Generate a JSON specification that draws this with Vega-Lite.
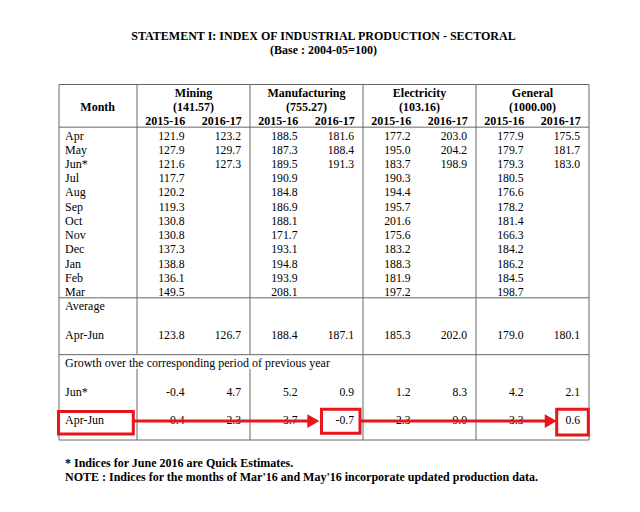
{
  "$schema": "https://vega.github.io/schema/vega-lite/v6.json",
  "width": 640,
  "height": 512,
  "autosize": "none",
  "padding": 0,
  "background": "white",
  "config": {
    "view": {"stroke": null},
    "locale": {"number": {"decimal": ".", "thousands": ",", "grouping": [3], "currency": ["", ""], "minus": "-"}},
    "text": {"font": "Liberation Serif", "color": "#000"}
  },
  "datasets": {
    "table": [
      {"row": "Apr", "label": "Apr", "Mining 2015-16": 121.9, "Mining 2016-17": 123.2, "Manufacturing 2015-16": 188.5, "Manufacturing 2016-17": 181.6, "Electricity 2015-16": 177.2, "Electricity 2016-17": 203.0, "General 2015-16": 177.9, "General 2016-17": 175.5},
      {"row": "May", "label": "May", "Mining 2015-16": 127.9, "Mining 2016-17": 129.7, "Manufacturing 2015-16": 187.3, "Manufacturing 2016-17": 188.4, "Electricity 2015-16": 195.0, "Electricity 2016-17": 204.2, "General 2015-16": 179.7, "General 2016-17": 181.7},
      {"row": "Jun*", "label": "Jun*", "Mining 2015-16": 121.6, "Mining 2016-17": 127.3, "Manufacturing 2015-16": 189.5, "Manufacturing 2016-17": 191.3, "Electricity 2015-16": 183.7, "Electricity 2016-17": 198.9, "General 2015-16": 179.3, "General 2016-17": 183.0},
      {"row": "Jul", "label": "Jul", "Mining 2015-16": 117.7, "Manufacturing 2015-16": 190.9, "Electricity 2015-16": 190.3, "General 2015-16": 180.5},
      {"row": "Aug", "label": "Aug", "Mining 2015-16": 120.2, "Manufacturing 2015-16": 184.8, "Electricity 2015-16": 194.4, "General 2015-16": 176.6},
      {"row": "Sep", "label": "Sep", "Mining 2015-16": 119.3, "Manufacturing 2015-16": 186.9, "Electricity 2015-16": 195.7, "General 2015-16": 178.2},
      {"row": "Oct", "label": "Oct", "Mining 2015-16": 130.8, "Manufacturing 2015-16": 188.1, "Electricity 2015-16": 201.6, "General 2015-16": 181.4},
      {"row": "Nov", "label": "Nov", "Mining 2015-16": 130.8, "Manufacturing 2015-16": 171.7, "Electricity 2015-16": 175.6, "General 2015-16": 166.3},
      {"row": "Dec", "label": "Dec", "Mining 2015-16": 137.3, "Manufacturing 2015-16": 193.1, "Electricity 2015-16": 183.2, "General 2015-16": 184.2},
      {"row": "Jan", "label": "Jan", "Mining 2015-16": 138.8, "Manufacturing 2015-16": 194.8, "Electricity 2015-16": 188.3, "General 2015-16": 186.2},
      {"row": "Feb", "label": "Feb", "Mining 2015-16": 136.1, "Manufacturing 2015-16": 193.9, "Electricity 2015-16": 181.9, "General 2015-16": 184.5},
      {"row": "Mar", "label": "Mar", "Mining 2015-16": 149.5, "Manufacturing 2015-16": 208.1, "Electricity 2015-16": 197.2, "General 2015-16": 198.7},
      {"row": "Average", "label": "Average"},
      {"row": "Apr-Jun avg", "label": "Apr-Jun", "Mining 2015-16": 123.8, "Mining 2016-17": 126.7, "Manufacturing 2015-16": 188.4, "Manufacturing 2016-17": 187.1, "Electricity 2015-16": 185.3, "Electricity 2016-17": 202.0, "General 2015-16": 179.0, "General 2016-17": 180.1},
      {"row": "Growth", "label": "Growth over the corresponding period of previous year"},
      {"row": "Jun* growth", "label": "Jun*", "Mining 2015-16": -0.4, "Mining 2016-17": 4.7, "Manufacturing 2015-16": 5.2, "Manufacturing 2016-17": 0.9, "Electricity 2015-16": 1.2, "Electricity 2016-17": 8.3, "General 2015-16": 4.2, "General 2016-17": 2.1},
      {"row": "Apr-Jun growth", "label": "Apr-Jun", "Mining 2015-16": 0.4, "Mining 2016-17": 2.3, "Manufacturing 2015-16": 3.7, "Manufacturing 2016-17": -0.7, "Electricity 2015-16": 2.3, "Electricity 2016-17": 9.0, "General 2015-16": 3.3, "General 2016-17": 0.6}
    ],
    "sectors": [
      {"row": "h1", "col": "Mining 2015-16", "text": "Mining"},
      {"row": "h2", "col": "Mining 2015-16", "text": "(141.57)"},
      {"row": "h1", "col": "Manufacturing 2015-16", "text": "Manufacturing"},
      {"row": "h2", "col": "Manufacturing 2015-16", "text": "(755.27)"},
      {"row": "h1", "col": "Electricity 2015-16", "text": "Electricity"},
      {"row": "h2", "col": "Electricity 2015-16", "text": "(103.16)"},
      {"row": "h1", "col": "General 2015-16", "text": "General"},
      {"row": "h2", "col": "General 2015-16", "text": "(1000.00)"}
    ],
    "years": [
      {"row": "h3", "col": "Mining 2015-16", "text": "2015-16"},
      {"row": "h3", "col": "Mining 2016-17", "text": "2016-17"},
      {"row": "h3", "col": "Manufacturing 2015-16", "text": "2015-16"},
      {"row": "h3", "col": "Manufacturing 2016-17", "text": "2016-17"},
      {"row": "h3", "col": "Electricity 2015-16", "text": "2015-16"},
      {"row": "h3", "col": "Electricity 2016-17", "text": "2016-17"},
      {"row": "h3", "col": "General 2015-16", "text": "2015-16"},
      {"row": "h3", "col": "General 2016-17", "text": "2016-17"}
    ],
    "titles": [
      {"row": "title", "text": "STATEMENT I: INDEX OF INDUSTRIAL PRODUCTION - SECTORAL"},
      {"row": "subtitle", "text": "(Base : 2004-05=100)"}
    ],
    "notes": [
      {"row": "note1", "text": "* Indices for June 2016 are Quick Estimates."},
      {"row": "note2", "text": "NOTE : Indices for the months of Mar'16 and May'16 incorporate updated production data."}
    ],
    "hlines": [
      {"row": "h1"}, {"row": "Apr"}, {"row": "Average"}, {"row": "Growth"}, {"row": "noteGap"}
    ],
    "vlines": [
      {"col": "Mining 2015-16", "from": "h1", "to": "Growth"},
      {"col": "Mining 2015-16", "from": "gapC", "to": "noteGap"},
      {"col": "Manufacturing 2015-16", "from": "h1", "to": "Growth"},
      {"col": "Manufacturing 2015-16", "from": "gapC", "to": "noteGap"},
      {"col": "Electricity 2015-16", "from": "h1", "to": "noteGap"},
      {"col": "General 2015-16", "from": "h1", "to": "noteGap"},
      {"col": "end", "from": "h1", "to": "noteGap"}
    ],
    "one": [{}]
  },
  "layer": [
    {
      "data": {"name": "titles"},
      "mark": {"type": "text", "fontSize": 12, "fontWeight": "bold", "align": "center", "baseline": "middle", "dx": 3.5, "dy": 8.3},
      "encoding": {
        "y": {"field": "row", "type": "nominal", "axis": null, "scale": {"type": "point", "padding": 0, "range": [27.62, 468.44], "domain": ["title","subtitle","gapT1","gapT2","h1","h2","h3","Apr","May","Jun*","Jul","Aug","Sep","Oct","Nov","Dec","Jan","Feb","Mar","Average","gapA","Apr-Jun avg","gapB","Growth","gapC","Jun* growth","gapD","Apr-Jun growth","gapE","noteGap","note1","note2"]}},
        "text": {"field": "text"}
      }
    },
    {
      "data": {"name": "one"},
      "mark": {"type": "text", "fontSize": 12, "fontWeight": "bold", "align": "center", "baseline": "middle", "dx": 17.2, "dy": 8.5},
      "encoding": {
        "x": {"datum": "Month", "type": "nominal", "axis": null, "scale": {"type": "point", "padding": 0, "range": [80.5, 589], "domain": ["Month","Mining 2015-16","Mining 2016-17","Manufacturing 2015-16","Manufacturing 2016-17","Electricity 2015-16","Electricity 2016-17","General 2015-16","General 2016-17","end"]}},
        "y": {"datum": "h2", "type": "nominal", "axis": null, "scale": {"type": "point", "padding": 0, "range": [27.62, 468.44], "domain": ["title","subtitle","gapT1","gapT2","h1","h2","h3","Apr","May","Jun*","Jul","Aug","Sep","Oct","Nov","Dec","Jan","Feb","Mar","Average","gapA","Apr-Jun avg","gapB","Growth","gapC","Jun* growth","gapD","Apr-Jun growth","gapE","noteGap","note1","note2"]}},
        "text": {"value": "Month"}
      }
    },
    {
      "data": {"name": "sectors"},
      "mark": {"type": "text", "fontSize": 12, "fontWeight": "bold", "align": "center", "baseline": "middle", "dx": 56.5, "dy": 8.5},
      "encoding": {
        "x": {"field": "col", "type": "nominal", "axis": null, "scale": {"type": "point", "padding": 0, "range": [80.5, 589], "domain": ["Month","Mining 2015-16","Mining 2016-17","Manufacturing 2015-16","Manufacturing 2016-17","Electricity 2015-16","Electricity 2016-17","General 2015-16","General 2016-17","end"]}},
        "y": {"field": "row", "type": "nominal", "axis": null, "scale": {"type": "point", "padding": 0, "range": [27.62, 468.44], "domain": ["title","subtitle","gapT1","gapT2","h1","h2","h3","Apr","May","Jun*","Jul","Aug","Sep","Oct","Nov","Dec","Jan","Feb","Mar","Average","gapA","Apr-Jun avg","gapB","Growth","gapC","Jun* growth","gapD","Apr-Jun growth","gapE","noteGap","note1","note2"]}},
        "text": {"field": "text"}
      }
    },
    {
      "data": {"name": "years"},
      "mark": {"type": "text", "fontSize": 12, "fontWeight": "bold", "align": "center", "baseline": "middle", "dx": 28.25, "dy": 8.0},
      "encoding": {
        "x": {"field": "col", "type": "nominal", "axis": null, "scale": {"type": "point", "padding": 0, "range": [80.5, 589], "domain": ["Month","Mining 2015-16","Mining 2016-17","Manufacturing 2015-16","Manufacturing 2016-17","Electricity 2015-16","Electricity 2016-17","General 2015-16","General 2016-17","end"]}},
        "y": {"field": "row", "type": "nominal", "axis": null, "scale": {"type": "point", "padding": 0, "range": [27.62, 468.44], "domain": ["title","subtitle","gapT1","gapT2","h1","h2","h3","Apr","May","Jun*","Jul","Aug","Sep","Oct","Nov","Dec","Jan","Feb","Mar","Average","gapA","Apr-Jun avg","gapB","Growth","gapC","Jun* growth","gapD","Apr-Jun growth","gapE","noteGap","note1","note2"]}},
        "text": {"field": "text"}
      }
    },
    {
      "data": {"name": "table"},
      "mark": {"type": "text", "fontSize": 12, "align": "left", "baseline": "middle", "dx": -15.5, "dy": 8.4},
      "encoding": {
        "x": {"datum": "Month", "type": "nominal", "axis": null, "scale": {"type": "point", "padding": 0, "range": [80.5, 589], "domain": ["Month","Mining 2015-16","Mining 2016-17","Manufacturing 2015-16","Manufacturing 2016-17","Electricity 2015-16","Electricity 2016-17","General 2015-16","General 2016-17","end"]}},
        "y": {"field": "row", "type": "nominal", "axis": null, "scale": {"type": "point", "padding": 0, "range": [27.62, 468.44], "domain": ["title","subtitle","gapT1","gapT2","h1","h2","h3","Apr","May","Jun*","Jul","Aug","Sep","Oct","Nov","Dec","Jan","Feb","Mar","Average","gapA","Apr-Jun avg","gapB","Growth","gapC","Jun* growth","gapD","Apr-Jun growth","gapE","noteGap","note1","note2"]}},
        "text": {"field": "label"}
      }
    },
    {
      "data": {"name": "table"},
      "transform": [
        {"fold": ["Mining 2015-16","Mining 2016-17","Manufacturing 2015-16","Manufacturing 2016-17","Electricity 2015-16","Electricity 2016-17","General 2015-16","General 2016-17"], "as": ["col", "value"]},
        {"filter": "isValid(datum.value)"}
      ],
      "mark": {"type": "text", "fontSize": 11.7, "align": "right", "baseline": "middle", "dx": 47.5, "dy": 8.4},
      "encoding": {
        "x": {"field": "col", "type": "nominal", "axis": null, "scale": {"type": "point", "padding": 0, "range": [80.5, 589], "domain": ["Month","Mining 2015-16","Mining 2016-17","Manufacturing 2015-16","Manufacturing 2016-17","Electricity 2015-16","Electricity 2016-17","General 2015-16","General 2016-17","end"]}},
        "y": {"field": "row", "type": "nominal", "axis": null, "scale": {"type": "point", "padding": 0, "range": [27.62, 468.44], "domain": ["title","subtitle","gapT1","gapT2","h1","h2","h3","Apr","May","Jun*","Jul","Aug","Sep","Oct","Nov","Dec","Jan","Feb","Mar","Average","gapA","Apr-Jun avg","gapB","Growth","gapC","Jun* growth","gapD","Apr-Jun growth","gapE","noteGap","note1","note2"]}},
        "text": {"field": "value", "type": "quantitative", "format": ".1f"}
      }
    },
    {
      "data": {"name": "notes"},
      "mark": {"type": "text", "fontSize": 12, "fontWeight": "bold", "align": "left", "baseline": "middle", "dx": -15.5, "dy": 8.6},
      "encoding": {
        "x": {"datum": "Month", "type": "nominal", "axis": null, "scale": {"type": "point", "padding": 0, "range": [80.5, 589], "domain": ["Month","Mining 2015-16","Mining 2016-17","Manufacturing 2015-16","Manufacturing 2016-17","Electricity 2015-16","Electricity 2016-17","General 2015-16","General 2016-17","end"]}},
        "y": {"field": "row", "type": "nominal", "axis": null, "scale": {"type": "point", "padding": 0, "range": [27.62, 468.44], "domain": ["title","subtitle","gapT1","gapT2","h1","h2","h3","Apr","May","Jun*","Jul","Aug","Sep","Oct","Nov","Dec","Jan","Feb","Mar","Average","gapA","Apr-Jun avg","gapB","Growth","gapC","Jun* growth","gapD","Apr-Jun growth","gapE","noteGap","note1","note2"]}},
        "text": {"field": "text"}
      }
    },
    {
      "data": {"name": "hlines"},
      "mark": {"type": "rule", "color": "#666", "strokeWidth": 1, "xOffset": -21.5},
      "encoding": {
        "x": {"datum": "Month", "type": "nominal", "axis": null, "scale": {"type": "point", "padding": 0, "range": [80.5, 589], "domain": ["Month","Mining 2015-16","Mining 2016-17","Manufacturing 2015-16","Manufacturing 2016-17","Electricity 2015-16","Electricity 2016-17","General 2015-16","General 2016-17","end"]}},
        "x2": {"datum": "end"},
        "y": {"field": "row", "type": "nominal", "axis": null, "scale": {"type": "point", "padding": 0, "range": [27.62, 468.44], "domain": ["title","subtitle","gapT1","gapT2","h1","h2","h3","Apr","May","Jun*","Jul","Aug","Sep","Oct","Nov","Dec","Jan","Feb","Mar","Average","gapA","Apr-Jun avg","gapB","Growth","gapC","Jun* growth","gapD","Apr-Jun growth","gapE","noteGap","note1","note2"]}}
      }
    },
    {
      "data": {"name": "vlines"},
      "mark": {"type": "rule", "color": "#666", "strokeWidth": 1},
      "encoding": {
        "x": {"field": "col", "type": "nominal", "axis": null, "scale": {"type": "point", "padding": 0, "range": [80.5, 589], "domain": ["Month","Mining 2015-16","Mining 2016-17","Manufacturing 2015-16","Manufacturing 2016-17","Electricity 2015-16","Electricity 2016-17","General 2015-16","General 2016-17","end"]}},
        "y": {"field": "from", "type": "nominal", "axis": null, "scale": {"type": "point", "padding": 0, "range": [27.62, 468.44], "domain": ["title","subtitle","gapT1","gapT2","h1","h2","h3","Apr","May","Jun*","Jul","Aug","Sep","Oct","Nov","Dec","Jan","Feb","Mar","Average","gapA","Apr-Jun avg","gapB","Growth","gapC","Jun* growth","gapD","Apr-Jun growth","gapE","noteGap","note1","note2"]}},
        "y2": {"field": "to"}
      }
    },
    {
      "data": {"name": "one"},
      "mark": {"type": "rule", "color": "#666", "strokeWidth": 1, "xOffset": -21.5},
      "encoding": {
        "x": {"datum": "Month", "type": "nominal", "axis": null, "scale": {"type": "point", "padding": 0, "range": [80.5, 589], "domain": ["Month","Mining 2015-16","Mining 2016-17","Manufacturing 2015-16","Manufacturing 2016-17","Electricity 2015-16","Electricity 2016-17","General 2015-16","General 2016-17","end"]}},
        "y": {"datum": "h1", "type": "nominal", "axis": null, "scale": {"type": "point", "padding": 0, "range": [27.62, 468.44], "domain": ["title","subtitle","gapT1","gapT2","h1","h2","h3","Apr","May","Jun*","Jul","Aug","Sep","Oct","Nov","Dec","Jan","Feb","Mar","Average","gapA","Apr-Jun avg","gapB","Growth","gapC","Jun* growth","gapD","Apr-Jun growth","gapE","noteGap","note1","note2"]}},
        "y2": {"datum": "noteGap"}
      }
    },
    {
      "data": {"name": "one"},
      "mark": {"type": "rect", "filled": false, "stroke": "#e8151b", "strokeWidth": 3, "xOffset": -22, "x2Offset": -3.7, "yOffset": 0, "y2Offset": -6},
      "encoding": {
        "x": {"datum": "Month", "type": "nominal", "axis": null, "scale": {"type": "point", "padding": 0, "range": [80.5, 589], "domain": ["Month","Mining 2015-16","Mining 2016-17","Manufacturing 2015-16","Manufacturing 2016-17","Electricity 2015-16","Electricity 2016-17","General 2015-16","General 2016-17","end"]}},
        "x2": {"datum": "Mining 2015-16"},
        "y": {"datum": "Apr-Jun growth", "type": "nominal", "axis": null, "scale": {"type": "point", "padding": 0, "range": [27.62, 468.44], "domain": ["title","subtitle","gapT1","gapT2","h1","h2","h3","Apr","May","Jun*","Jul","Aug","Sep","Oct","Nov","Dec","Jan","Feb","Mar","Average","gapA","Apr-Jun avg","gapB","Growth","gapC","Jun* growth","gapD","Apr-Jun growth","gapE","noteGap","note1","note2"]}},
        "y2": {"datum": "noteGap"}
      }
    },
    {
      "data": {"name": "one"},
      "mark": {"type": "rect", "filled": false, "stroke": "#e8151b", "strokeWidth": 3, "xOffset": 15, "x2Offset": -3, "yOffset": -2.3, "y2Offset": -6.7},
      "encoding": {
        "x": {"datum": "Manufacturing 2016-17", "type": "nominal", "axis": null, "scale": {"type": "point", "padding": 0, "range": [80.5, 589], "domain": ["Month","Mining 2015-16","Mining 2016-17","Manufacturing 2015-16","Manufacturing 2016-17","Electricity 2015-16","Electricity 2016-17","General 2015-16","General 2016-17","end"]}},
        "x2": {"datum": "Electricity 2015-16"},
        "y": {"datum": "Apr-Jun growth", "type": "nominal", "axis": null, "scale": {"type": "point", "padding": 0, "range": [27.62, 468.44], "domain": ["title","subtitle","gapT1","gapT2","h1","h2","h3","Apr","May","Jun*","Jul","Aug","Sep","Oct","Nov","Dec","Jan","Feb","Mar","Average","gapA","Apr-Jun avg","gapB","Growth","gapC","Jun* growth","gapD","Apr-Jun growth","gapE","noteGap","note1","note2"]}},
        "y2": {"datum": "noteGap"}
      }
    },
    {
      "data": {"name": "one"},
      "mark": {"type": "rect", "filled": false, "stroke": "#e8151b", "strokeWidth": 3, "xOffset": 24.2, "x2Offset": -0.7, "yOffset": -2.3, "y2Offset": -5},
      "encoding": {
        "x": {"datum": "General 2016-17", "type": "nominal", "axis": null, "scale": {"type": "point", "padding": 0, "range": [80.5, 589], "domain": ["Month","Mining 2015-16","Mining 2016-17","Manufacturing 2015-16","Manufacturing 2016-17","Electricity 2015-16","Electricity 2016-17","General 2015-16","General 2016-17","end"]}},
        "x2": {"datum": "end"},
        "y": {"datum": "Apr-Jun growth", "type": "nominal", "axis": null, "scale": {"type": "point", "padding": 0, "range": [27.62, 468.44], "domain": ["title","subtitle","gapT1","gapT2","h1","h2","h3","Apr","May","Jun*","Jul","Aug","Sep","Oct","Nov","Dec","Jan","Feb","Mar","Average","gapA","Apr-Jun avg","gapB","Growth","gapC","Jun* growth","gapD","Apr-Jun growth","gapE","noteGap","note1","note2"]}},
        "y2": {"datum": "noteGap"}
      }
    },
    {
      "data": {"name": "one"},
      "mark": {"type": "rule", "color": "#e8151b", "strokeWidth": 3, "xOffset": -4, "x2Offset": 3, "yOffset": 9.5},
      "encoding": {
        "x": {"datum": "Mining 2015-16", "type": "nominal", "axis": null, "scale": {"type": "point", "padding": 0, "range": [80.5, 589], "domain": ["Month","Mining 2015-16","Mining 2016-17","Manufacturing 2015-16","Manufacturing 2016-17","Electricity 2015-16","Electricity 2016-17","General 2015-16","General 2016-17","end"]}},
        "x2": {"datum": "Manufacturing 2016-17"},
        "y": {"datum": "Apr-Jun growth", "type": "nominal", "axis": null, "scale": {"type": "point", "padding": 0, "range": [27.62, 468.44], "domain": ["title","subtitle","gapT1","gapT2","h1","h2","h3","Apr","May","Jun*","Jul","Aug","Sep","Oct","Nov","Dec","Jan","Feb","Mar","Average","gapA","Apr-Jun avg","gapB","Growth","gapC","Jun* growth","gapD","Apr-Jun growth","gapE","noteGap","note1","note2"]}}
      }
    },
    {
      "data": {"name": "one"},
      "mark": {"type": "point", "shape": "triangle-right", "size": 190, "filled": true, "color": "#e8151b", "opacity": 1, "xOffset": 6.8, "yOffset": 9.5},
      "encoding": {
        "x": {"datum": "Manufacturing 2016-17", "type": "nominal", "axis": null, "scale": {"type": "point", "padding": 0, "range": [80.5, 589], "domain": ["Month","Mining 2015-16","Mining 2016-17","Manufacturing 2015-16","Manufacturing 2016-17","Electricity 2015-16","Electricity 2016-17","General 2015-16","General 2016-17","end"]}},
        "y": {"datum": "Apr-Jun growth", "type": "nominal", "axis": null, "scale": {"type": "point", "padding": 0, "range": [27.62, 468.44], "domain": ["title","subtitle","gapT1","gapT2","h1","h2","h3","Apr","May","Jun*","Jul","Aug","Sep","Oct","Nov","Dec","Jan","Feb","Mar","Average","gapA","Apr-Jun avg","gapB","Growth","gapC","Jun* growth","gapD","Apr-Jun growth","gapE","noteGap","note1","note2"]}}
      }
    },
    {
      "data": {"name": "one"},
      "mark": {"type": "rule", "color": "#e8151b", "strokeWidth": 3, "xOffset": -3, "x2Offset": 14, "yOffset": 9.5},
      "encoding": {
        "x": {"datum": "Electricity 2015-16", "type": "nominal", "axis": null, "scale": {"type": "point", "padding": 0, "range": [80.5, 589], "domain": ["Month","Mining 2015-16","Mining 2016-17","Manufacturing 2015-16","Manufacturing 2016-17","Electricity 2015-16","Electricity 2016-17","General 2015-16","General 2016-17","end"]}},
        "x2": {"datum": "General 2016-17"},
        "y": {"datum": "Apr-Jun growth", "type": "nominal", "axis": null, "scale": {"type": "point", "padding": 0, "range": [27.62, 468.44], "domain": ["title","subtitle","gapT1","gapT2","h1","h2","h3","Apr","May","Jun*","Jul","Aug","Sep","Oct","Nov","Dec","Jan","Feb","Mar","Average","gapA","Apr-Jun avg","gapB","Growth","gapC","Jun* growth","gapD","Apr-Jun growth","gapE","noteGap","note1","note2"]}}
      }
    },
    {
      "data": {"name": "one"},
      "mark": {"type": "point", "shape": "triangle-right", "size": 190, "filled": true, "color": "#e8151b", "opacity": 1, "xOffset": 18.2, "yOffset": 9.5},
      "encoding": {
        "x": {"datum": "General 2016-17", "type": "nominal", "axis": null, "scale": {"type": "point", "padding": 0, "range": [80.5, 589], "domain": ["Month","Mining 2015-16","Mining 2016-17","Manufacturing 2015-16","Manufacturing 2016-17","Electricity 2015-16","Electricity 2016-17","General 2015-16","General 2016-17","end"]}},
        "y": {"datum": "Apr-Jun growth", "type": "nominal", "axis": null, "scale": {"type": "point", "padding": 0, "range": [27.62, 468.44], "domain": ["title","subtitle","gapT1","gapT2","h1","h2","h3","Apr","May","Jun*","Jul","Aug","Sep","Oct","Nov","Dec","Jan","Feb","Mar","Average","gapA","Apr-Jun avg","gapB","Growth","gapC","Jun* growth","gapD","Apr-Jun growth","gapE","noteGap","note1","note2"]}}
      }
    }
  ]
}
